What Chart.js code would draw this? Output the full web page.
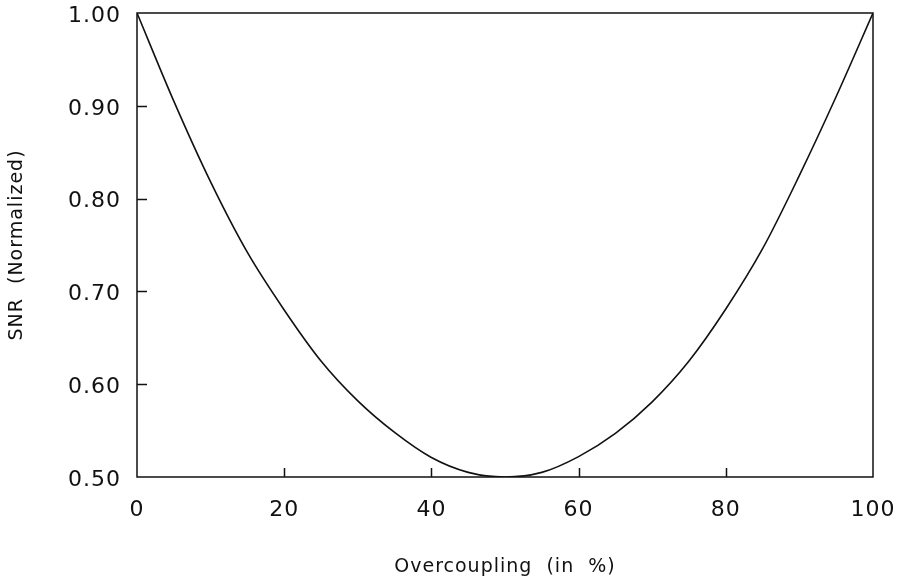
<!DOCTYPE html>
<html>
<head>
<meta charset="utf-8">
<script src="https://cdn.jsdelivr.net/npm/chart.js@4.4.1/dist/chart.umd.min.js"></script>
<style>
  html, body { margin: 0; padding: 0; background: #ffffff; }
  #wrap { width: 905px; height: 580px; position: relative; }
</style>
</head>
<body>
<div id="wrap"><canvas id="c" width="905" height="580"></canvas></div>
<script>
// ---- Data ----
const overcoupling = [0, 5, 10, 15, 20, 25, 30, 35, 40, 45, 50, 55, 60, 65, 70, 75, 80, 85, 90, 95, 100];
const snrNormalized = [1.000, 0.905, 0.818, 0.742, 0.680, 0.625, 0.582, 0.548, 0.521, 0.505, 0.500, 0.505, 0.522, 0.547, 0.581, 0.625, 0.681, 0.746, 0.825, 0.910, 1.000];
const xTicks = [0, 20, 40, 60, 80, 100];
const yTicks = [0.50, 0.60, 0.70, 0.80, 0.90, 1.00];
const xTitle = 'Overcoupling  (in  %)';
const yTitle = 'SNR  (Normalized)';

const INK = '#111111';
const FONT = "'DejaVu Sans', sans-serif";

const points = overcoupling.map((x, i) => ({ x: x, y: snrNormalized[i] }));

// frame + inward ticks
const framePlugin = {
  id: 'frame',
  beforeDraw(chart) {
    chart.ctx.letterSpacing = '1px';
  },
  afterDraw(chart) {
    const { ctx, chartArea: a, scales } = chart;
    ctx.save();
    ctx.strokeStyle = INK;
    ctx.lineWidth = 1.5;
    ctx.strokeRect(a.left, a.top, a.right - a.left, a.bottom - a.top);
    ctx.beginPath();
    yTicks.forEach(v => {
      if (v <= 0.5 || v >= 1.0) return;
      const py = Math.round(scales.y.getPixelForValue(v)) + 0.5;
      ctx.moveTo(a.left, py); ctx.lineTo(a.left + 10, py);
    });
    xTicks.forEach(v => {
      if (v <= 0 || v >= 100) return;
      const px = Math.round(scales.x.getPixelForValue(v)) + 0.5;
      ctx.moveTo(px, a.bottom); ctx.lineTo(px, a.bottom - 9);
    });
    ctx.stroke();
    ctx.restore();
  }
};

new Chart(document.getElementById('c'), {
  type: 'line',
  data: {
    datasets: [{
      data: points,
      borderColor: INK,
      borderWidth: 1.6,
      pointRadius: 0,
      fill: false,
      cubicInterpolationMode: 'monotone'
    }]
  },
  options: {
    responsive: false,
    animation: false,
    devicePixelRatio: 1,
    layout: { padding: { left: 0, top: 13, right: 32, bottom: 0 } },
    plugins: { legend: { display: false }, tooltip: { enabled: false } },
    scales: {
      x: {
        type: 'linear',
        min: 0, max: 100,
        afterFit(s) { s.height = 103; s.paddingLeft = 0; s.paddingRight = 0; },
        afterBuildTicks(s) { s.ticks = xTicks.map(v => ({ value: v })); },
        grid: { display: false, drawTicks: false },
        border: { display: false },
        ticks: {
          color: INK,
          font: { family: FONT, size: 22 },
          padding: 20,
          maxRotation: 0,
          autoSkip: false,
          callback: v => String(v)
        },
        title: {
          display: true,
          text: xTitle,
          color: INK,
          font: { family: FONT, size: 19 },
          padding: { top: 0, bottom: 2 }
        }
      },
      y: {
        type: 'linear',
        min: 0.5, max: 1.0,
        afterFit(s) { s.width = 137; s.paddingTop = 0; s.paddingBottom = 0; },
        afterBuildTicks(s) { s.ticks = yTicks.map(v => ({ value: v })); },
        grid: { display: false, drawTicks: false },
        border: { display: false },
        ticks: {
          color: INK,
          font: { family: FONT, size: 22 },
          padding: 16,
          labelOffset: 3,
          autoSkip: false,
          callback: v => Number(v).toFixed(2)
        },
        title: {
          display: true,
          text: yTitle,
          color: INK,
          font: { family: FONT, size: 19 },
          padding: { top: 6, bottom: 0 }
        }
      }
    }
  },
  plugins: [framePlugin]
});
</script>
</body>
</html>
